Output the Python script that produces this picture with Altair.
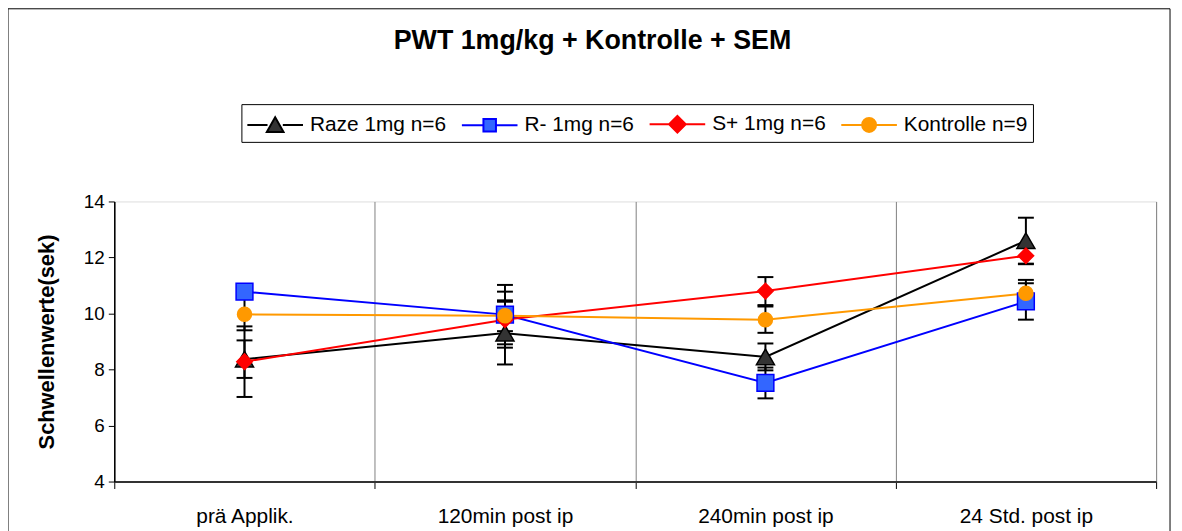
import altair as alt
import pandas as pd

categories = ["prä Applik.", "120min post ip", "240min post ip", "24 Std. post ip"]
series_names = ["Raze 1mg n=6", "R- 1mg n=6", "S+ 1mg n=6", "Kontrolle n=9"]

raze = [8.37, 9.30, 8.45, 12.60]
raze_sem = [0.67, 1.12, 0.48, 0.82]
r_minus = [10.78, 9.96, 7.52, 10.43]
r_minus_sem = [0.15, 1.06, 0.55, 0.65]
s_plus = [8.28, 9.78, 10.80, 12.06]
s_plus_sem = [1.26, 1.00, 0.50, 0.30]
kontrolle = [9.97, 9.92, 9.78, 10.72]
kontrolle_sem = [0.57, 0.55, 0.47, 0.48]

line_colors = ["#000000", "#0000FF", "#FF0000", "#FF9900"]
fill_colors = ["#333333", "#3366FF", "#FF0000", "#FF9900"]
stroke_colors = ["#000000", "#0000FF", "#FF0000", "#FF9900"]
shapes = ["triangle-up", "square", "diamond", "circle"]
sizes = [330, 200, 320, 225]
# legend symbols: short line with the marker in the middle (unit = 14 px)
legend_paths = [
    "M-2,0H-0.55M0.55,0H2M0,-0.55L0.6,0.5L-0.6,0.5Z",
    "M-2,0H-0.45M0.45,0H2M-0.45,-0.45H0.45V0.45H-0.45Z",
    "M-2,0H-0.6M0.6,0H2M0,-0.6L0.6,0L0,0.6L-0.6,0Z",
    "M-2,0H-0.5M0.5,0H2M0.5,0A0.5,0.5,0,1,1,-0.5,0A0.5,0.5,0,1,1,0.5,0Z",
]

rows = []
for name, vals, sems in zip(series_names,
                            [raze, r_minus, s_plus, kontrolle],
                            [raze_sem, r_minus_sem, s_plus_sem, kontrolle_sem]):
    for c, v, s in zip(categories, vals, sems):
        rows.append({"series": name, "cat": c, "value": v, "lo": v - s, "hi": v + s})
df = pd.DataFrame(rows)

FONT = "Liberation Sans"
W, H = 1049, 282

x_enc = alt.X("cat:N", sort=categories,
              scale=alt.Scale(type="band", paddingInner=0, paddingOuter=0),
              axis=alt.Axis(title=None, tickBand="extent", grid=True, gridColor="#808080",
                            gridWidth=1, tickColor="#000000", tickSize=7, domainColor="#333333",
                            domainWidth=2, labelFontSize=21, labelFont=FONT, labelColor="#000000",
                            labelPadding=17, labelAngle=0))
y_scale = alt.Scale(domain=[4, 14], nice=False, zero=False)
y_axis = alt.Axis(title="Schwellenwerte(sek)", values=[4, 6, 8, 10, 12, 14], grid=False,
                  tickSize=6, tickColor="#000000", domainColor="#000000", domainWidth=1.5,
                  labelFontSize=19, labelFont=FONT, labelColor="#000000", labelPadding=4,
                  titleFont=FONT, titleFontSize=22, titleFontWeight="bold", titleColor="#000000",
                  titlePadding=25)

base = alt.Chart(df)

frame = alt.Chart(pd.DataFrame({"a": [0]})).mark_rect(
    fillOpacity=0, stroke="#000000", strokeWidth=1
).encode(x=alt.value(-107), x2=alt.value(W + 14), y=alt.value(-194), y2=alt.value(H + 80))

rules = base.mark_rule(color="#000000", strokeWidth=2).encode(
    x=x_enc, y=alt.Y("lo:Q", scale=y_scale, axis=y_axis), y2="hi:Q")

caps = base.transform_fold(["lo", "hi"], as_=["k", "v"]).mark_tick(
    color="#000000", thickness=2, size=16, opacity=1).encode(
    x=x_enc, y=alt.Y("v:Q", scale=y_scale))

lines = base.mark_line(strokeWidth=2).encode(
    x=x_enc, y=alt.Y("value:Q", scale=y_scale),
    color=alt.Color("series:N", scale=alt.Scale(domain=series_names, range=line_colors), legend=None),
    order=alt.Order("cat_idx:Q"),
).transform_calculate(cat_idx="indexof(" + str(categories) + ", datum.cat)")

points = base.mark_point(filled=True, opacity=1, strokeWidth=1.5).encode(
    x=x_enc, y=alt.Y("value:Q", scale=y_scale),
    shape=alt.Shape("series:N", scale=alt.Scale(domain=series_names, range=shapes), legend=None),
    fill=alt.Fill("series:N", scale=alt.Scale(domain=series_names, range=fill_colors), legend=None),
    stroke=alt.Stroke("series:N", scale=alt.Scale(domain=series_names, range=stroke_colors), legend=None),
    size=alt.Size("series:N", scale=alt.Scale(domain=series_names, range=sizes), legend=None),
)

leg = dict(title=None, orient="none", legendX=128, legendY=-98, direction="horizontal",
           symbolSize=784, symbolStrokeWidth=2, symbolOffset=14,
           labelFontSize=21, labelFont=FONT, labelColor="#000000", labelOffset=20,
           columnPadding=11, strokeColor="#000000", fillColor="#FFFFFF", padding=5)
legend_layer = base.transform_filter("false").mark_point(filled=True, opacity=1, size=784).encode(
    x=x_enc, y=alt.Y("value:Q", scale=y_scale),
    shape=alt.Shape("series:N", scale=alt.Scale(domain=series_names, range=legend_paths),
                    legend=alt.Legend(**leg)),
    fill=alt.Fill("series:N", scale=alt.Scale(domain=series_names, range=fill_colors),
                  legend=alt.Legend(**leg)),
    stroke=alt.Stroke("series:N", scale=alt.Scale(domain=series_names, range=stroke_colors),
                      legend=alt.Legend(**leg)),
)

chart = alt.layer(frame, rules, caps, lines, points, legend_layer).resolve_scale(
    shape="independent", fill="independent", stroke="independent"
).properties(
    width=W, height=H,
    autosize=alt.AutoSizeParams(type="none"),
    padding={"left": 107, "top": 193, "right": 18, "bottom": 48},
    title=alt.TitleParams("PWT 1mg/kg + Kontrolle + SEM", font=FONT, fontSize=27,
                          fontWeight="bold", color="#000000", anchor="middle",
                          frame="group", offset=-47, dx=-43),
).configure_view(stroke="#808080", strokeWidth=2).configure(background="#FFFFFF")

chart.save("out.html", embed_options={"renderer": "svg", "actions": False})
